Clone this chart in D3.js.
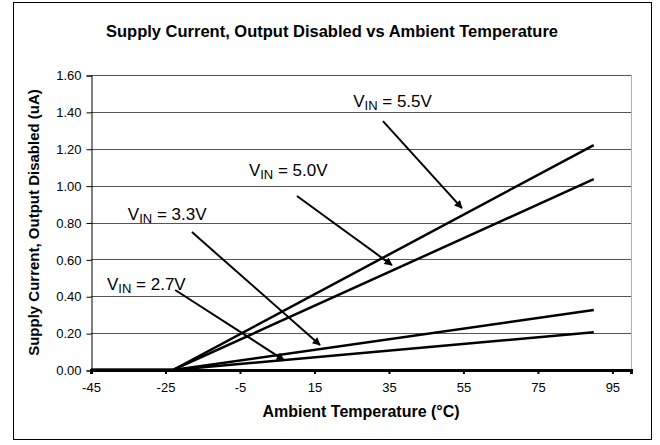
<!DOCTYPE html>
<html>
<head>
<meta charset="utf-8">
<script src="https://cdn.jsdelivr.net/npm/d3@7"></script>
<style>
  body { margin: 0; background: #fff; }
  text { font-family: "Liberation Sans", Arial, sans-serif; }
</style>
</head>
<body>
<div id="chart"></div>
<script>
// data
var temps = [-45, -23, 90];
var vin55 = [0, 0, 1.22];
var vin50 = [0, 0, 1.035];
var vin33 = [0, 0, 0.325];
var vin27 = [0, 0, 0.205];
var xTicks = [-45, -25, -5, 15, 35, 55, 75, 95];
var yTicks = [0, 0.2, 0.4, 0.6, 0.8, 1.0, 1.2, 1.4, 1.6];

// callout labels, in data units: label position, arrow start, arrow tip
var labelNames = ["5.5V", "5.0V", "3.3V", "2.7V"];
var labelAt = [[25.4, 1.426], [-2.6, 1.052], [-35.1, 0.813], [-40.7, 0.434]];
var arrowFrom = [[33.4, 1.35], [10.3, 0.944], [-17.9, 0.748], [-22.4, 0.434]];
var arrowTo = [[54.6, 0.878], [35.8, 0.569], [16.5, 0.136], [6.8, 0.054]];

var W = 660, H = 445;
var margin = {top: 75, right: 29, bottom: 75, left: 91};

var svg = d3.select("#chart").append("svg")
    .attr("width", W)
    .attr("height", H);

// outer frame
svg.append("rect")
    .attr("x", 13.5).attr("y", 2.5)
    .attr("width", 638).attr("height", 437)
    .attr("fill", "none").attr("stroke", "#000");

var x = d3.scaleLinear().domain([-45, 100]).range([margin.left, W - margin.right]);
var y = d3.scaleLinear().domain([0, 1.6]).range([H - margin.bottom, margin.top]);

// gridlines
svg.append("g")
  .selectAll("line")
  .data(yTicks.slice(1))
  .enter()
  .append("line")
    .attr("x1", x(-45)).attr("x2", x(100))
    .attr("y1", d => Math.round(y(d)) + 0.5)
    .attr("y2", d => Math.round(y(d)) + 0.5)
    .attr("stroke", "#555")
    .attr("stroke-width", 1);

// right border of plot
svg.append("line")
    .attr("x1", x(100) + 0.5).attr("x2", x(100) + 0.5)
    .attr("y1", y(1.6)).attr("y2", y(0))
    .attr("stroke", "#b0b0b0");

// y axis
var yAxis = svg.append("g")
    .attr("transform", "translate(" + (x(-45) + 0.5) + ",0.5)")
    .call(d3.axisLeft(y).tickValues(yTicks).tickFormat(d3.format(".2f")).tickSizeOuter(0).tickSize(5).tickPadding(5));
yAxis.selectAll("text").attr("font-size", "13px").attr("fill", "#000").attr("font-family", "Liberation Sans, Arial, sans-serif");
yAxis.selectAll("line, path").attr("stroke", "#000");

// x axis
var xAxis = svg.append("g")
    .attr("transform", "translate(0," + y(0) + ")")
    .call(d3.axisBottom(x).tickValues(xTicks).tickFormat(d => String(d)).tickSizeOuter(0).tickSize(4).tickPadding(9));
xAxis.selectAll("text").attr("font-size", "13px").attr("fill", "#000").attr("font-family", "Liberation Sans, Arial, sans-serif");
xAxis.selectAll("line").attr("stroke", "#000").attr("stroke-width", 2);
xAxis.select("path").attr("stroke", "#000").attr("stroke-width", 3);

// series lines
var line = d3.line()
    .x((d, i) => x(temps[i]))
    .y(d => y(d));

svg.append("g")
  .selectAll("path")
  .data([vin55, vin50, vin33, vin27])
  .enter()
  .append("path")
    .attr("d", line)
    .attr("fill", "none")
    .attr("stroke", "#000")
    .attr("stroke-width", 2.5);

// arrowhead
svg.append("defs").append("marker")
    .attr("id", "head")
    .attr("viewBox", "0 0 10 10")
    .attr("refX", 9).attr("refY", 5)
    .attr("markerWidth", 5).attr("markerHeight", 4)
    .attr("markerUnits", "strokeWidth")
    .attr("orient", "auto")
  .append("path")
    .attr("d", "M0,0 L10,5 L0,10 Z")
    .attr("fill", "#000");

svg.append("g")
  .selectAll("line")
  .data(labelNames)
  .enter()
  .append("line")
    .attr("x1", (d, i) => x(arrowFrom[i][0]))
    .attr("y1", (d, i) => y(arrowFrom[i][1]))
    .attr("x2", (d, i) => x(arrowTo[i][0]))
    .attr("y2", (d, i) => y(arrowTo[i][1]))
    .attr("stroke", "#000")
    .attr("stroke-width", 2)
    .attr("marker-end", "url(#head)");

var labels = svg.append("g")
  .selectAll("text")
  .data(labelNames)
  .enter()
  .append("text")
    .attr("x", (d, i) => x(labelAt[i][0]))
    .attr("y", (d, i) => y(labelAt[i][1]))
    .attr("font-size", "17px")
    .attr("fill", "#000");
labels.append("tspan").text("V");
labels.append("tspan").attr("font-size", "13px").attr("dy", 3).text("IN");
labels.append("tspan").attr("dy", -3).text(d => " = " + d);

// titles
svg.append("text")
    .attr("x", 332).attr("y", 37)
    .attr("text-anchor", "middle")
    .attr("font-size", "16.5px")
    .attr("font-weight", "bold")
    .text("Supply Current, Output Disabled vs Ambient Temperature");

svg.append("text")
    .attr("transform", "translate(39," + ((y(0) + y(1.6)) / 2) + ") rotate(-90)")
    .attr("text-anchor", "middle")
    .attr("font-size", "15px")
    .attr("font-weight", "bold")
    .text("Supply Current, Output Disabled (uA)");

svg.append("text")
    .attr("x", (x(-45) + x(100)) / 2).attr("y", 417)
    .attr("text-anchor", "middle")
    .attr("font-size", "16px")
    .attr("font-weight", "bold")
    .text("Ambient Temperature (°C)");
</script>
</body>
</html>
